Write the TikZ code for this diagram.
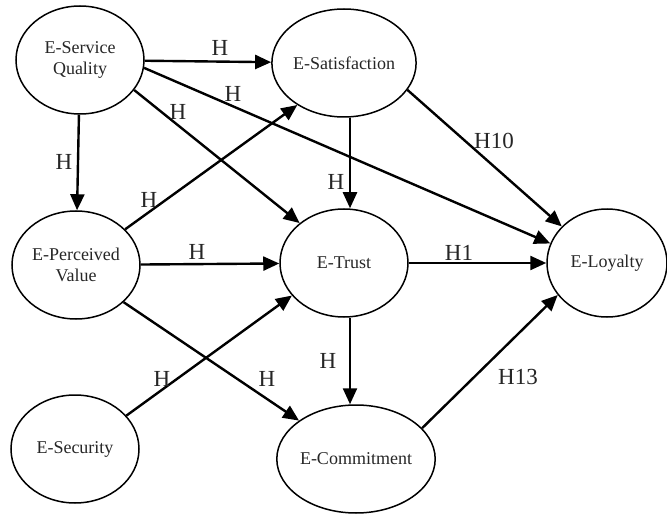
\documentclass[tikz,border=0pt]{standalone}
\usepackage{fontspec}
\setmainfont{Liberation Serif}
\usetikzlibrary{shapes.geometric,arrows.meta}

\begin{document}
\begin{tikzpicture}[x=1pt,y=-1pt,
		construct/.style={ellipse,draw,line width=1.5pt,minimum width=128pt,minimum height=108pt,
			inner sep=0pt,align=center,text=black!85,font=\fontsize{18}{21}\selectfont},
		link/.style={-{Triangle[length=16pt,width=14pt]},line width=2.4pt},
		hyp/.style={inner sep=0pt,text=black!85,font=\fontsize{23}{25}\selectfont}]
				\useasboundingbox (0,0) rectangle (667,516);
				\node[construct] (ESQ) at (80,60) {E-Service\\Quality};
				\node[construct] (ESAT) at (344,63) {E-Satisfaction};
				\node[construct] (EPV) at (76,265) {E-Perceived\\Value};
				\node[construct] (ETR) at (344,263) {E-Trust};
				\node[construct,minimum width=120pt] (ELOY) at (607,263) {E-Loyalty};
				\node[construct] (ESEC) at (75,449) {E-Security};
				\node[construct] (ECOM) at (356,459) {E-Commitment};
				\draw[link] (ESQ) -- (ESAT);
				\draw[link] (ESQ) -- (EPV);
				\draw[link] (ESQ.-29) -- (ETR.138);
				\draw[link] (ESQ.-7) -- (ELOY.161);
				\draw[link] (EPV.36) -- (ESAT.-138);
				\draw[link] (EPV) -- (ETR);
				\draw[link] (EPV.-38) -- (ECOM.146);
				\draw[link] (ESEC.33) -- (ETR.-148);
				\draw[link] ([xshift=6pt]ESAT.south) -- ([xshift=6pt]ETR.north);
				\draw[link] (ESAT.-23) -- (ELOY.141);
				\draw[link] (ETR) -- (ELOY);
				\draw[link] ([xshift=6pt]ETR.south) -- ([xshift=-6pt]ECOM.north);
				\draw[link] (ECOM.25) -- (ELOY.-147);
				\node[hyp] (hSqSat) at (220,48) {H};
				\node[hyp] (hSqLoy) at (233,94) {H};
				\node[hyp] (hSqTr) at (178,112) {H};
				\node[hyp] (hSqPv) at (64,162) {H};
				\node[hyp] (hPvSat) at (149,200) {H};
				\node[hyp] (hPvTr) at (197,252) {H};
				\node[hyp] (hSecTr) at (162,379) {H};
				\node[hyp] (hPvCom) at (267,379) {H};
				\node[hyp] (hTrCom) at (328,361) {H};
				\node[hyp] (hSatTr) at (336,182) {H};
				\node[hyp] (hSatLoy) at (494,141) {H10};
				\node[hyp] (hTrLoy) at (459,253) {H1};
				\node[hyp] (hComLoy) at (518,377) {H13};
			\end{tikzpicture}
\end{document}
